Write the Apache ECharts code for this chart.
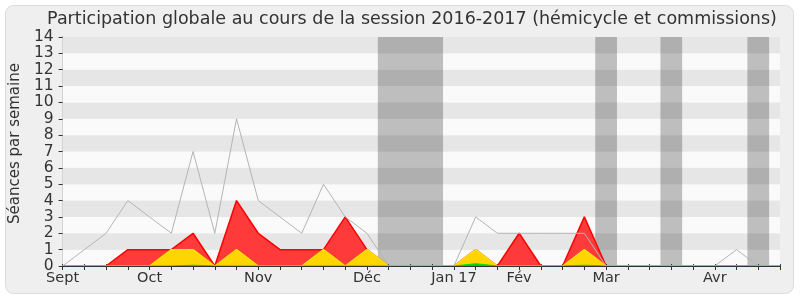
<!DOCTYPE html>
<html>
<head>
<meta charset="utf-8">
<script src="https://cdn.jsdelivr.net/npm/echarts@6/dist/echarts.min.js"></script>
<style>
html,body{margin:0;padding:0;background:#ffffff;}
#chart{width:800px;height:300px;}
</style>
</head>
<body>
<div id="chart"></div>
<script>
// week index 0..33 (weekly ticks from early September 2016 to late April 2017)
const weekLabels = ['Sept','','','','Oct','','','','','Nov','','','','','Déc','','','','Jan 17','','','Fév','','','','Mar','','','','','Avr','','',''];
const totalSeances = [0,1,2,4,3,2,7,2,9,4,3,2,5,3,2,0,0,0,0,3,2,2,2,2,2,0,0,0,0,0,0,1,0,0];
const redSeances    = [0,0,0,1,1,1,2,0,4,2,1,1,1,3,1,0,0,0,0,1,0,2,0,0,3,0,0,0,0,0,0,0,0,0];
const yellowSeances = [0,0,0,0,0,1,1,0,1,0,0,0,1,0,1,0,0,0,0,1,0,0,0,0,1,0,0,0,0,0,0,0,0,0];
const greenSeances  = [0,0,0,0,0,0,0.05,0,0,0,0,0,0,0,0,0,0,0,0,0.14,0,0,0,0,0.05,0,0,0,0,0,0,0,0,0];
// vacation periods (in week-index units)
const vacationStart = [14.5, 24.5, 27.5, 31.5];
const vacationEnd   = [17.5, 25.5, 28.5, 32.5];
const yTicks = [0,1,2,3,4,5,6,7,8,9,10,11,12,13,14];

const pairs = arr => arr.map((v, i) => [i, v]);
const FONT = 'DejaVu Sans';

const chart = echarts.init(document.getElementById('chart'), null, {renderer: 'canvas'});
chart.setOption({
  animation: false,
  backgroundColor: '#ffffff',
  graphic: [{
    type: 'rect', z: -10, silent: true,
    shape: {x: 5.5, y: 5.5, width: 788, height: 288, r: 8},
    style: {fill: '#efefef', stroke: '#dcdcdc', lineWidth: 1}
  }],
  title: {
    text: 'Participation globale au cours de la session 2016-2017 (hémicycle et commissions)',
    left: 407, top: 5, textAlign: 'center',
    textStyle: {fontFamily: FONT, fontSize: 17.5, fontWeight: 'normal', color: '#333333'}
  },
  grid: {left: 61, right: 20, top: 37, bottom: 34, containLabel: false},
  xAxis: [{
    type: 'value', min: 0, max: weekLabels.length - 1, interval: 1, position: 'bottom', z: 5,
    axisLine: {show: true, onZero: false, lineStyle: {color: '#333333', width: 1}},
    axisTick: {show: true, length: 4, lineStyle: {color: '#333333'}},
    splitLine: {show: false},
    axisLabel: {
      show: true, margin: 5, fontFamily: FONT, fontSize: 14.5, color: '#333333',
      formatter: v => weekLabels[Math.round(v)] || ''
    }
  }, {
    type: 'value', min: 0, max: weekLabels.length - 1, interval: 1, position: 'top',
    axisLine: {show: false},
    axisTick: {show: true, length: 2, lineStyle: {color: '#444444'}},
    axisLabel: {show: false}, splitLine: {show: false}
  }],
  yAxis: [{
    type: 'value', min: yTicks[0], max: yTicks[yTicks.length - 1], interval: 1,
    name: 'Séances par semaine', nameLocation: 'middle', nameGap: 35, nameRotate: 90,
    nameTextStyle: {fontFamily: FONT, fontSize: 15, color: '#333333', padding: [0, 0, 0, 16]},
    axisLine: {show: true, lineStyle: {color: '#333333'}},
    axisTick: {show: true, length: 4, lineStyle: {color: '#333333'}},
    axisLabel: {fontFamily: FONT, fontSize: 15.5, color: '#333333', margin: 9},
    splitLine: {show: false},
    splitArea: {show: true, areaStyle: {color: ['#fafafa', '#e6e6e6']}}
  }, {
    type: 'value', min: 0, max: 14, interval: 1, position: 'right',
    axisLine: {show: true, lineStyle: {color: '#d4d4d4'}},
    axisTick: {show: false}, axisLabel: {show: false}, splitLine: {show: false}
  }],
  series: [
    {
      name: 'vacances', type: 'line', data: [], z: 1, silent: true,
      markArea: {
        silent: true,
        itemStyle: {color: 'rgba(0,0,0,0.24)'},
        data: vacationStart.map((s, k) => [{xAxis: s, yAxis: 0}, {xAxis: vacationEnd[k], yAxis: 14}])
      }
    },
    {
      name: 'rouge', type: 'line', data: pairs(redSeances), symbol: 'none', z: 2,
      lineStyle: {color: '#ff0000', width: 1.5},
      areaStyle: {color: '#ff3a3a', opacity: 1}
    },
    {
      name: 'jaune', type: 'line', data: pairs(yellowSeances), symbol: 'none', z: 3,
      lineStyle: {color: '#ffe000', width: 1.5},
      areaStyle: {color: '#ffd500', opacity: 1}
    },
    {
      name: 'vert', type: 'line', data: pairs(greenSeances), symbol: 'none', z: 3,
      lineStyle: {color: '#00e000', width: 1},
      areaStyle: {color: '#00cc00', opacity: 1}
    },
    {
      name: 'total', type: 'line', data: pairs(totalSeances), symbol: 'none', z: 4,
      lineStyle: {color: '#b4b4b4', width: 1}
    }
  ]
});
</script>
</body>
</html>
